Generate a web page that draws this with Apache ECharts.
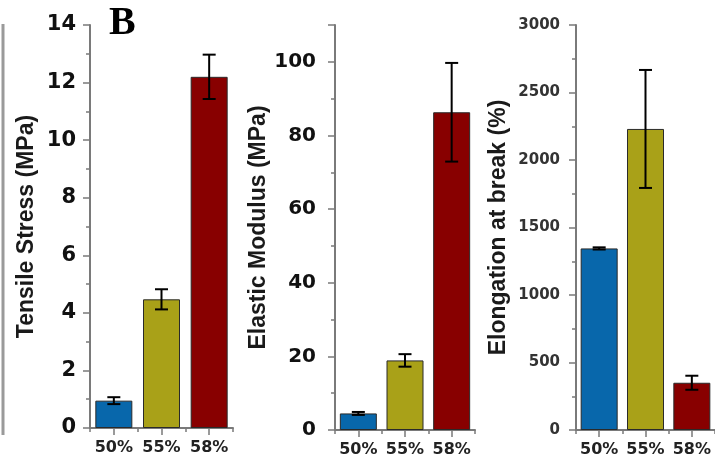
<!DOCTYPE html>
<html>
<head>
<meta charset="utf-8">
<script src="https://cdn.jsdelivr.net/npm/echarts@6/dist/echarts.min.js"></script>
<style>
html,body{margin:0;padding:0;background:#fff;}
#main{width:715px;height:459px;}
</style>
</head>
<body>
<div id="main"></div>
<script>
// ---- data ----
var categories = ['50%', '55%', '58%'];
var tensile = [0.95, 4.47, 12.2];
var tensileErr = [0.12, 0.35, 0.77];
var modulus = [4.5, 18.9, 86.3];
var modulusErr = [0.4, 1.7, 13.4];
var elongation = [1345, 2230, 350];
var elongationErr = [8, 437, 52];
var barColors = ['#0867ab', '#a9a118', '#880000'];
var yTitles = ['Tensile Stress (MPa)', 'Elastic Modulus (MPa)', 'Elongation at break (%)'];

var panels = [
  {vals: tensile, errs: tensileErr, max: 14, major: 2, minor: 1, grid: {left: 90, top: 25, width: 143, height: 403}, gap: 52, labelSize: 21, labelMargin: 14, labelColor: '#111'},
  {vals: modulus, errs: modulusErr, max: 110, major: 20, minor: 10, grid: {left: 335, top: 25, width: 140, height: 405}, gap: 58, labelSize: 20, labelMargin: 19, labelColor: '#111'},
  {vals: elongation, errs: elongationErr, max: 3000, major: 500, minor: 250, grid: {left: 576, top: 25, width: 139, height: 405}, gap: 66, labelSize: 15, labelMargin: 16, labelColor: '#333'}
];

var axisColor = '#7a7a7a';
var grids = [], xAxes = [], yAxes = [], series = [];

panels.forEach(function (p, i) {
  grids.push(p.grid);
  // main category axis: boundary ticks + labels
  xAxes.push({
    type: 'category', gridIndex: i, data: categories, position: 'bottom',
    axisLine: {show: true, lineStyle: {color: axisColor, width: 2}},
    axisTick: {show: true, length: 4, lineStyle: {color: axisColor, width: 1.5}},
    axisLabel: {interval: 0, hideOverlap: false, margin: 12, fontFamily: 'DejaVu Sans', fontWeight: 'bold', fontSize: 16, color: '#222'}
  });
  // overlay axis: centre ticks
  xAxes.push({
    type: 'category', gridIndex: i, data: categories, position: 'bottom', offset: 0,
    axisLine: {show: false},
    axisTick: {show: true, alignWithLabel: true, interval: 0, length: 7, lineStyle: {color: axisColor, width: 1.5}},
    axisLabel: {show: false}
  });
  // main value axis
  yAxes.push({
    type: 'value', gridIndex: i, min: 0, max: p.max, interval: p.major, position: 'left',
    name: yTitles[i], nameLocation: 'middle', nameGap: p.gap,
    nameTextStyle: {fontFamily: 'Liberation Sans', fontWeight: 'bold', fontSize: 23, color: '#1a1a1a'},
    axisLine: {show: true, lineStyle: {color: axisColor, width: 2}},
    axisTick: {show: true, length: 7, lineStyle: {color: axisColor, width: 1.5}},
    splitLine: {show: false},
    axisLabel: {
      margin: p.labelMargin, fontFamily: 'DejaVu Sans', fontWeight: 'bold', fontSize: p.labelSize, color: p.labelColor,
      formatter: (function (major) { return function (v) { return (v % major === 0) ? String(v) : ''; }; })(p.major)
    }
  });
  // minor tick axis
  yAxes.push({
    type: 'value', gridIndex: i, min: 0, max: p.max, interval: p.minor, position: 'left', offset: 0,
    axisLine: {show: false},
    axisTick: {show: true, length: 4, lineStyle: {color: axisColor, width: 1.5}},
    splitLine: {show: false},
    axisLabel: {show: false}
  });

  series.push({
    type: 'bar', xAxisIndex: i * 2, yAxisIndex: i * 2, barWidth: 37,
    data: p.vals.map(function (v, k) {
      return {value: v, itemStyle: {color: barColors[k], borderColor: '#2a2a2a', borderWidth: 1}};
    }),
    silent: true
  });
  series.push({
    type: 'custom', xAxisIndex: i * 2, yAxisIndex: i * 2,
    data: p.vals.map(function (v, k) { return [k, v - p.errs[k], v + p.errs[k]]; }),
    renderItem: function (params, api) {
      var x = api.value(0);
      var lo = api.coord([x, api.value(1)]);
      var hi = api.coord([x, api.value(2)]);
      var hw = 6.5;
      var st = {stroke: '#000', lineWidth: 2};
      return {
        type: 'group',
        children: [
          {type: 'line', shape: {x1: hi[0], y1: hi[1], x2: lo[0], y2: lo[1]}, style: st},
          {type: 'line', shape: {x1: hi[0] - hw, y1: hi[1], x2: hi[0] + hw, y2: hi[1]}, style: st},
          {type: 'line', shape: {x1: lo[0] - hw, y1: lo[1], x2: lo[0] + hw, y2: lo[1]}, style: st}
        ]
      };
    },
    z: 5,
    silent: true
  });
});

var chart = echarts.init(document.getElementById('main'), null, {renderer: 'canvas'});
chart.setOption({
  backgroundColor: '#fff',
  animation: false,
  grid: grids,
  xAxis: xAxes,
  yAxis: yAxes,
  series: series,
  graphic: [
    {type: 'line', shape: {x1: 3, y1: 24, x2: 3, y2: 435}, style: {stroke: '#9a9a9a', lineWidth: 3}},
    {type: 'text', left: 109, top: 4, style: {text: 'B', fontFamily: 'Liberation Serif', fontWeight: 'bold', fontSize: 40, fill: '#000'}}
  ]
});
</script>
</body>
</html>
